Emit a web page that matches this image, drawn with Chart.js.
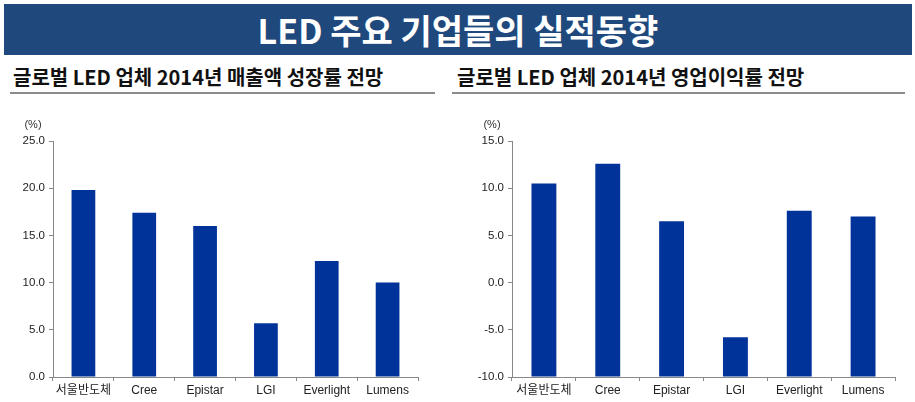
<!DOCTYPE html>
<html>
<head>
<meta charset="utf-8">
<script src="https://cdn.jsdelivr.net/npm/chart.js@4/dist/chart.umd.min.js"></script>
<style>
  body { margin: 0; width: 915px; height: 402px; background: #fff; position: relative; overflow: hidden;
         font-family: "Noto Sans CJK KR", "Liberation Sans", sans-serif; }
  .banner { position: absolute; left: 4px; top: 4px; width: 908px; height: 51px; background: #1F497D;
            color: #fff; font-weight: bold; font-size: 34px; line-height: 51px; text-align: center; }
  .subtitle { position: absolute; top: 64px; height: 28px; font-weight: bold; font-size: 20px; color: #111;
              border-bottom: 2px solid #8c8c8c; line-height: 26px; }
  .box { position: absolute; top: 110px; height: 292px; }
</style>
</head>
<body>
<div class="banner">LED 주요 기업들의 실적동향</div>
<div class="subtitle" style="left:10px; width:422px; padding-left:3px;">글로벌 LED 업체 2014년 매출액 성장률 전망</div>
<div class="subtitle" style="left:452px; width:448px; padding-left:5px;">글로벌 LED 업체 2014년 영업이익률 전망</div>
<div class="box" style="left:0; width:430px;"><canvas id="salesChart"></canvas></div>
<div class="box" style="left:450px; width:460px;"><canvas id="marginChart"></canvas></div>

<script>
// 데이터
const companies = ['서울반도체', 'Cree', 'Epistar', 'LGI', 'Everlight', 'Lumens'];
const salesGrowth = [19.8, 17.4, 16.0, 5.7, 12.3, 10.0];      // 매출액 성장률 (%)
const operatingMargin = [10.5, 12.6, 6.5, -5.8, 7.6, 7.0];    // 영업이익률 (%)
const salesRange = [0, 25];
const marginRange = [-10, 15];
const tickStep = 5;

// "(%)" 단위 표시
const unitLabel = {
  id: 'unitLabel',
  afterDraw(chart) {
    const ctx = chart.ctx;
    ctx.save();
    ctx.font = '11px "Liberation Sans", sans-serif';
    ctx.fillStyle = '#333';
    ctx.textAlign = 'center';
    ctx.textBaseline = 'middle';
    ctx.fillText('(%)', chart.chartArea.left - 20, 15);
    ctx.restore();
  }
};

function createBarChart(id, values, range, yWidth, padRight) {
  const ctx = document.getElementById(id).getContext('2d');
  return new Chart(ctx, {
    type: 'bar',
    data: {
      labels: companies,
      datasets: [{
        data: values,
        base: range[0],
        backgroundColor: '#003399',
        barPercentage: 0.39,
        categoryPercentage: 1
      }]
    },
    options: {
      responsive: true,
      maintainAspectRatio: false,
      animation: false,
      layout: { padding: { top: 31, right: padRight, bottom: 0, left: 0 } },
      plugins: { legend: { display: false }, tooltip: { enabled: false } },
      scales: {
        x: {
          afterFit: s => { s.height = 25; },
          grid: { drawOnChartArea: false, tickLength: 4, color: '#888', offset: true },
          border: { color: '#888' },
          ticks: {
            color: '#222', padding: 2, maxRotation: 0, minRotation: 0, autoSkip: false,
            font: { size: 12, family: '"Liberation Sans", "Noto Sans CJK KR", sans-serif' }
          }
        },
        y: {
          min: range[0],
          max: range[1],
          afterFit: s => { s.width = yWidth; },
          grid: { drawOnChartArea: false, tickLength: 4, color: '#888' },
          border: { color: '#888' },
          ticks: {
            stepSize: tickStep,
            color: '#222',
            padding: 4,
            font: { size: 11.5, family: '"Liberation Sans", sans-serif' },
            callback: v => v.toFixed(1)
          }
        }
      }
    },
    plugins: [unitLabel]
  });
}

document.addEventListener('DOMContentLoaded', function() {
  createBarChart('salesChart', salesGrowth, salesRange, 53, 12);
  createBarChart('marginChart', operatingMargin, marginRange, 62, 15);
});
</script>
</body>
</html>
